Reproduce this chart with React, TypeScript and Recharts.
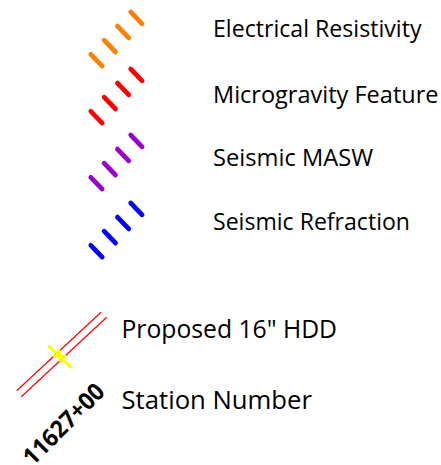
import React from "react";
import { ScatterChart, Scatter, XAxis, YAxis, ReferenceLine } from "recharts";

// ---- data ----
const legendLabels = ["Electrical Resistivity", "Microgravity Feature", "Seismic MASW", "Seismic Refraction"];
const legendColors = ["#FF7F00", "#FF0000", "#9900CC", "#0000FF"];
const lowerLabels = ['Proposed 16" HDD', "Station Number"];
const stationTick = "11627+00";
const lineColor = "#FF0000";
const markerColor = "#FFFF00";

// ---- layout (pixel space of the 441x465 canvas) ----
const W = 441;
const H = 465;
const TEXT_X = 213;
const ROW_BASELINE = [36.7, 103.3, 166, 230];
const ROW_TEXT_LEN = [208.5, 225.5, 160, 197];
const DASH_START_Y = [54.3, 111.3, 177.3, 245.3];
const DASH_X0 = 90.8;
const DASH_STEP = { x: 13.3, y: -14.1 };
const DASH_VEC = { x: 11.4, y: 11.8 };
const LOWER_X = 121.5;
const LOWER_BASELINE = [338.3, 409];
const LOWER_TEXT_LEN = [215.5, 190.5];
const HDD_LINES = [
  [{ x: 16.7, y: 390.7 }, { x: 101, y: 312.3 }],
  [{ x: 21.3, y: 396.7 }, { x: 106.7, y: 317.3 }],
];
const MARKER_SEGS = [
  [{ x: 48, y: 345.5 }, { x: 71.5, y: 368 }],
  [{ x: 53, y: 356 }, { x: 66, y: 356.5 }],
  [{ x: 58.5, y: 349 }, { x: 61, y: 363 }],
];
const STATION_CENTER = { x: 63.5, y: 424 };

const FONT = "'Open Sans', 'Noto Sans', sans-serif";

const rowTable = legendLabels.map((label, i) => ({
  x: TEXT_X,
  y: ROW_BASELINE[i],
  label,
  len: ROW_TEXT_LEN[i],
  size: 23.5,
}));
const lowerTable = lowerLabels.map((label, i) => ({
  x: LOWER_X,
  y: LOWER_BASELINE[i],
  label,
  len: LOWER_TEXT_LEN[i],
  size: 25.5,
}));
const stationTable = [{ x: STATION_CENTER.x, y: STATION_CENTER.y, label: stationTick }];

const dashSegments = legendColors.flatMap((color, r) =>
  [0, 1, 2, 3].map((k) => {
    const sx = DASH_X0 + DASH_STEP.x * k;
    const sy = DASH_START_Y[r] + DASH_STEP.y * k;
    return { color, seg: [{ x: sx, y: sy }, { x: sx + DASH_VEC.x, y: sy + DASH_VEC.y }] };
  })
);

const LabelShape = (props: any) => {
  const { cx, cy, payload } = props;
  return (
    <text
      x={cx}
      y={cy}
      fontFamily={FONT}
      fontSize={payload.size}
      fill="#000"
      textLength={payload.len}
      lengthAdjust="spacingAndGlyphs"
    >
      {payload.label}
    </text>
  );
};

const StationShape = (props: any) => {
  const { cx, cy, payload } = props;
  return (
    <text
      x={cx}
      y={cy}
      dy={8.5}
      transform={`rotate(-45 ${cx} ${cy})`}
      textAnchor="middle"
      fontFamily={FONT}
      fontWeight="bold"
      fontSize={24}
      fill="#000"
      textLength={104}
      lengthAdjust="spacingAndGlyphs"
    >
      {payload.label}
    </text>
  );
};

export default function App() {
  return (
    <div style={{ position: "absolute", left: 0, top: 0, width: W, height: H, background: "#fff" }}>
      <ScatterChart width={W} height={H} margin={{ top: 0, right: 0, bottom: 0, left: 0 }}>
        <XAxis type="number" dataKey="x" domain={[0, W]} hide allowDataOverflow />
        <YAxis type="number" dataKey="y" domain={[0, H]} reversed hide allowDataOverflow />
        {dashSegments.map((d, i) => (
          <ReferenceLine
            key={`dash-${i}`}
            segment={d.seg}
            stroke={d.color}
            strokeWidth={4.7}
            strokeLinecap="round"
            ifOverflow="visible"
          />
        ))}
        {HDD_LINES.map((seg, i) => (
          <ReferenceLine key={`hdd-${i}`} segment={seg} stroke={lineColor} strokeWidth={1.2} ifOverflow="visible" />
        ))}
        {MARKER_SEGS.map((seg, i) => (
          <ReferenceLine key={`mk-${i}`} segment={seg} stroke={markerColor} strokeWidth={3} ifOverflow="visible" />
        ))}
        <Scatter data={rowTable} shape={LabelShape} isAnimationActive={false} />
        <Scatter data={lowerTable} shape={LabelShape} isAnimationActive={false} />
        <Scatter data={stationTable} shape={StationShape} isAnimationActive={false} />
      </ScatterChart>
    </div>
  );
}
